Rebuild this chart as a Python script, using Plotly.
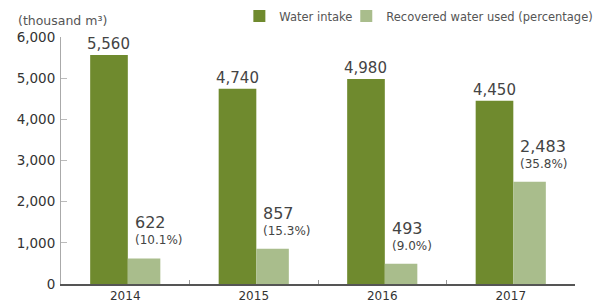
import plotly.graph_objects as go

years = ["2014", "2015", "2016", "2017"]
water_intake = [5560, 4740, 4980, 4450]
recovered = [622, 857, 493, 2483]
recovered_pct = [10.1, 15.3, 9.0, 35.8]
y_ticks = [0, 1000, 2000, 3000, 4000, 5000, 6000]
y_tick_text = ["0", "1,000", "2,000", "3,000", "4,000", "5,000", "6,000"]

DARK = "#6f8a2e"
LIGHT = "#a9bd8c"
FONT = "DejaVu Sans"

dark_off, dark_w = -0.273, 0.293
light_off, light_w = 0.02, 0.253

fig = go.Figure()
fig.add_trace(go.Bar(
    x=years, y=water_intake, name="Water intake",
    marker=dict(color=DARK, line=dict(width=0)),
    offset=dark_off, width=dark_w, legend="legend",
))
fig.add_trace(go.Bar(
    x=years, y=recovered, name="Recovered water used (percentage)",
    marker=dict(color=LIGHT, line=dict(width=0)),
    offset=light_off, width=light_w, legend="legend2",
))

annotations = []
for i, v in enumerate(water_intake):
    annotations.append(dict(
        x=i + dark_off + dark_w / 2, y=v, xref="x", yref="y",
        text=f"{v:,}", showarrow=False, yanchor="bottom", yshift=0,
        font=dict(family=FONT, size=15, color="#444444"),
    ))
for i, (v, p) in enumerate(zip(recovered, recovered_pct)):
    annotations.append(dict(
        x=i + light_off, y=v, xref="x", yref="y", xanchor="left", xshift=5,
        text=f"({p:.1f}%)", showarrow=False, yanchor="bottom", yshift=9,
        font=dict(family=FONT, size=12, color="#444444"),
    ))
    annotations.append(dict(
        x=i + light_off, y=v, xref="x", yref="y", xanchor="left", xshift=5,
        text=f"{v:,}", showarrow=False, yanchor="bottom", yshift=24,
        font=dict(family=FONT, size=16, color="#444444"),
    ))
annotations.append(dict(
    x=-0.088, y=1.065, xref="paper", yref="paper", xanchor="left", yanchor="middle",
    text="(thousand m³)", showarrow=False,
    font=dict(family=FONT, size=12.5, color="#555555"),
))

legend_common = dict(
    orientation="h", yanchor="middle", y=1.085, xanchor="left",
    font=dict(family=FONT, size=11.5, color="#555555"),
    itemwidth=30, bgcolor="rgba(0,0,0,0)",
)

fig.update_layout(
    width=603, height=307,
    margin=dict(l=53, r=36, t=29, b=31, autoexpand=False),
    paper_bgcolor="white", plot_bgcolor="white",
    font=dict(family=FONT, color="#444444"),
    showlegend=True,
    legend=dict(x=0.347, **legend_common),
    legend2=dict(x=0.555, **legend_common),
    barmode="overlay",
    annotations=annotations,
    xaxis=dict(
        type="category", range=[-0.5, 3.5],
        showline=True, linecolor="#555555", linewidth=1.5,
        ticks="inside", tickson="boundaries", ticklen=4, tickcolor="#999999",
        showgrid=False, zeroline=False,
        tickfont=dict(family=FONT, size=12, color="#333333"),
    ),
    yaxis=dict(
        range=[0, 6000], tickvals=y_ticks, ticktext=y_tick_text,
        showline=True, linecolor="#aaaaaa", linewidth=1,
        ticks="inside", ticklen=6, tickcolor="#bbbbbb",
        showgrid=False, zeroline=False, ticklabelstandoff=2,
        tickfont=dict(family=FONT, size=13.5, color="#333333"),
    ),
)

fig.write_html("out.html")
